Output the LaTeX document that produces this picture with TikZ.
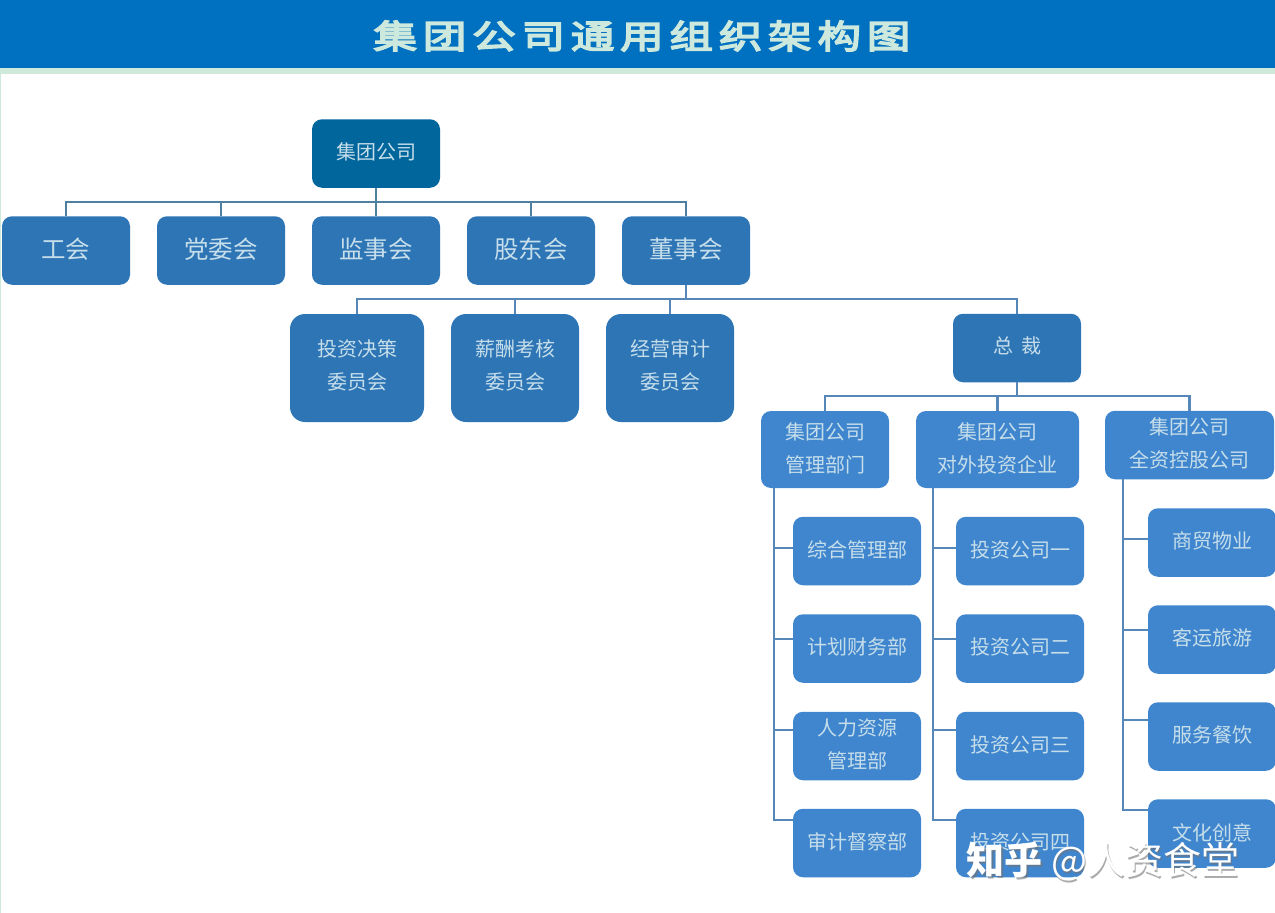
\documentclass[tikz,border=0pt]{standalone}
\usepackage{fontspec}
\setmainfont{Noto Sans CJK SC}
\newfontfamily\titlefont[FakeStretch=1.32,LetterSpace=17.5,FakeBold=5]{Noto Sans CJK SC}
\newcommand\tx[2]{\raisebox{#1pt}[0pt][0pt]{\begin{tabular}{@{}c@{}}#2\end{tabular}}}
\definecolor{bandblue}{HTML}{0070C0}
\definecolor{bandgreen}{HTML}{CFE9DB}
\definecolor{rootblue}{HTML}{00669C}
\definecolor{midblue}{HTML}{2E75B6}
\definecolor{leafblue}{HTML}{4086CE}
\definecolor{wirea}{HTML}{50809F}
\definecolor{wireb}{HTML}{5588B8}
\definecolor{inktext}{HTML}{C6DEEA}
\definecolor{titleink}{HTML}{CDE8DC}
\tikzset{
  orgbox/.style={rectangle,rounded corners=10pt,inner sep=0pt,text=inktext,
    font=\fontsize{20}{33}\selectfont,minimum height=68.5pt,minimum width=128pt},
  rootbox/.style={orgbox,fill=rootblue},
  midbox/.style={orgbox,fill=midblue},
  bigbox/.style={midbox,font=\fontsize{24.5}{33}\selectfont},
  cmtbox/.style={midbox,rounded corners=15pt,minimum height=108pt},
  leafbox/.style={orgbox,fill=leafblue},
  wireone/.style={draw=wirea,line width=2.3pt},
  wiretwo/.style={draw=wireb,line width=2.3pt}
}
\begin{document}
\begin{tikzpicture}[x=1pt,y=-1pt]
\useasboundingbox (0,0) rectangle (1275,913);
\clip (0,0) rectangle (1275,913);
\fill[white] (0,0) rectangle (1275,913);
\fill[bandgreen] (0,74) rectangle (1,913);
\fill[bandgreen] (0,68) rectangle (1275,74);
\fill[bandblue] (0,0) rectangle (1275,68);
\node[text=titleink,inner sep=0pt,font=\titlefont\fontsize{33}{33}\selectfont] (title) at (642,36) {集团公司通用组织架构图};

\node[rootbox] (root) at (376,153.5) {\tx{-5}{集团公司}};
\node[bigbox] (gh) at (66,250.5) {\tx{-8}{工会}};
\node[bigbox] (dw) at (221,250.5) {\tx{-8}{党委会}};
\node[bigbox] (js) at (376,250.5) {\tx{-8}{监事会}};
\node[bigbox] (gd) at (531,250.5) {\tx{-8}{股东会}};
\node[bigbox] (ds) at (686,250.5) {\tx{-8}{董事会}};

\node[cmtbox,minimum width=134pt] (tz) at (357,368) {\tx{-4}{投资决策\\委员会}};
\node[cmtbox] (xc) at (515,368) {\tx{-4}{薪酬考核\\委员会}};
\node[cmtbox] (jy) at (670,368) {\tx{-4}{经营审计\\委员会}};
\node[midbox] (zc) at (1017,348) {\tx{-4}{总\hspace{8pt}裁}};

\node[leafbox,minimum height=77pt] (ga) at (825,449.5) {\tx{-5}{集团公司\\管理部门}};
\node[leafbox,minimum height=77pt,minimum width=163pt] (gb) at (997.5,449.5) {\tx{-5}{集团公司\\对外投资企业}};
\node[leafbox,minimum width=169pt] (gc) at (1189.5,445) {\tx{-5}{集团公司\\全资控股公司}};

\node[leafbox] (a1) at (857,551) {\tx{-5}{综合管理部}};
\node[leafbox] (a2) at (857,648.5) {\tx{-5}{计划财务部}};
\node[leafbox] (a3) at (857,746) {\tx{-5}{人力资源\\管理部}};
\node[leafbox] (a4) at (857,843) {\tx{-5}{审计督察部}};
\node[leafbox] (b1) at (1020,551) {\tx{-5}{投资公司一}};
\node[leafbox] (b2) at (1020,648.5) {\tx{-5}{投资公司二}};
\node[leafbox] (b3) at (1020,746) {\tx{-5}{投资公司三}};
\node[leafbox] (b4) at (1020,843) {\tx{-5}{投资公司四}};
\node[leafbox] (c1) at (1212,542.5) {\tx{-5}{商贸物业}};
\node[leafbox] (c2) at (1212,639.5) {\tx{-5}{客运旅游}};
\node[leafbox] (c3) at (1212,736.5) {\tx{-5}{服务餐饮}};
\node[leafbox] (c4) at (1212,833.5) {\tx{-6}{文化创意}};

\coordinate (bus1) at (376,202);
\coordinate (bus2) at (686,299);
\coordinate (bus3) at (1017,396);
\foreach \n in {gh,dw,gd,ds} \draw[wireone] (\n.north) |- (bus1);
\draw[wireone] (root.south) -- (js.north);
\foreach \n in {tz,xc,jy,zc} \draw[wiretwo] (\n.north) |- (bus2);
\draw[wiretwo] (ds.south) -- (bus2);
\foreach \n in {ga,gb,gc} \draw[wiretwo] (\n.north) |- (bus3);
\draw[wiretwo] (zc.south) -- (bus3);

\foreach \n/\d in {a1/3,a2/9.5,a3/16,a4/23} \draw[wiretwo] ([xshift=-51pt]ga.south) |- ([yshift=\d pt]\n.west);
\foreach \n/\d in {b1/3,b2/9.5,b3/16,b4/23} \draw[wiretwo] ([xshift=-64.5pt]gb.south) |- ([yshift=\d pt]\n.west);
\foreach \n/\d in {c1/3.5,c2/9.5,c3/16.5,c4/23.5} \draw[wiretwo] ([xshift=-66.5pt]gc.south) |- ([yshift=\d pt]\n.west);

\node[text=black!55,opacity=.6,inner sep=0pt,font=\fontsize{38}{38}\selectfont] (markshadow) at (1104.5,863.5) {{\bfseries 知乎} @人资食堂};
\node[text=white,inner sep=0pt,font=\fontsize{38}{38}\selectfont] (mark) at (1103,862) {{\bfseries 知乎} @人资食堂};
\end{tikzpicture}
\end{document}
